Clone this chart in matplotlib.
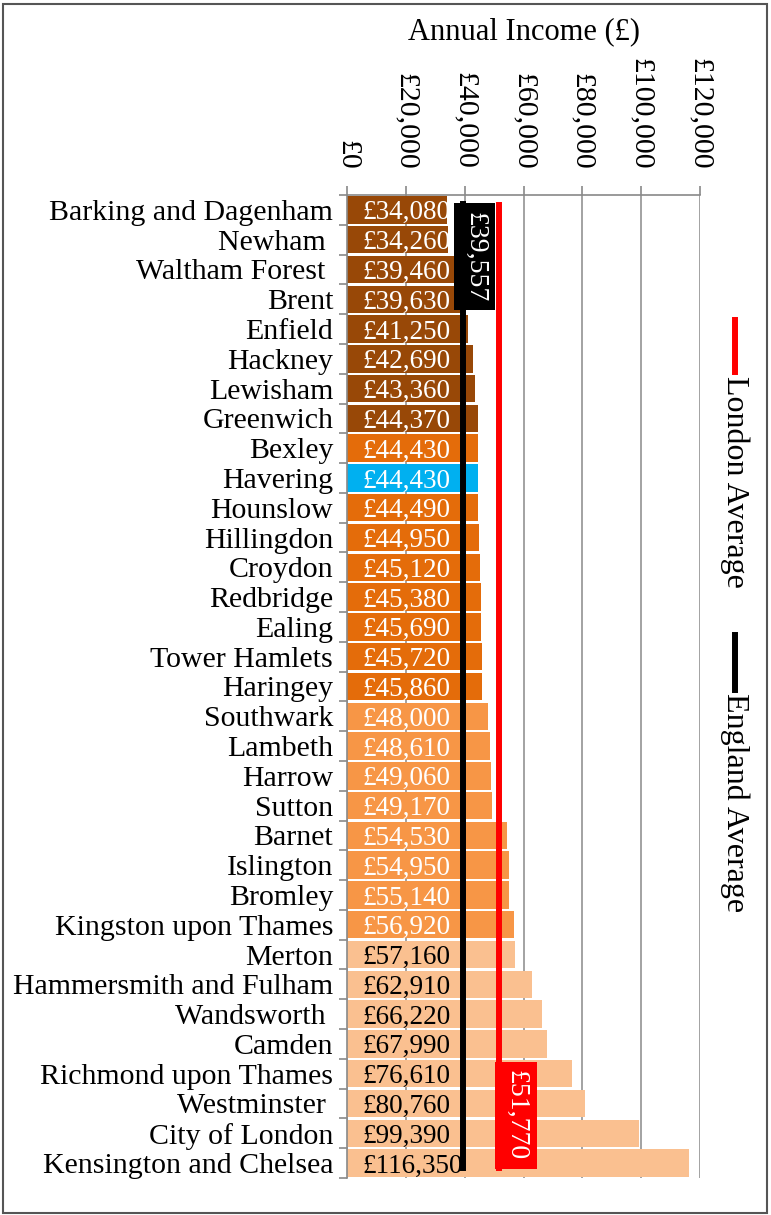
import numpy as np
import matplotlib
matplotlib.use('Agg')
import matplotlib.pyplot as plt
from matplotlib.lines import Line2D
from matplotlib.patches import Rectangle

boroughs = ['Barking and Dagenham', 'Newham ', 'Waltham Forest ', 'Brent', 'Enfield',
            'Hackney', 'Lewisham', 'Greenwich', 'Bexley', 'Havering', 'Hounslow',
            'Hillingdon', 'Croydon', 'Redbridge', 'Ealing', 'Tower Hamlets', 'Haringey',
            'Southwark', 'Lambeth', 'Harrow', 'Sutton', 'Barnet', 'Islington', 'Bromley',
            'Kingston upon Thames', 'Merton', 'Hammersmith and Fulham', 'Wandsworth ',
            'Camden', 'Richmond upon Thames', 'Westminster ', 'City of London',
            'Kensington and Chelsea']
income = [34080, 34260, 39460, 39630, 41250, 42690, 43360, 44370, 44430, 44430,
          44490, 44950, 45120, 45380, 45690, 45720, 45860, 48000, 48610, 49060,
          49170, 54530, 54950, 55140, 56920, 57160, 62910, 66220, 67990, 76610,
          80760, 99390, 116350]
england_avg = 39557
london_avg = 51770
x_ticks = [0, 20000, 40000, 60000, 80000, 100000, 120000]

plt.rcParams['font.family'] = ['Liberation Serif', 'DejaVu Serif']

# colour bands as in the original
brown, orange, light, pale, blue = '#984807', '#E46C0A', '#F79646', '#FAC090', '#00B0F0'
colors = [brown] * 8 + [orange] * 9 + [light] * 8 + [pale] * 8
colors[boroughs.index('Havering')] = blue
text_colors = ['white'] * 25 + ['black'] * 8
grey = '#898989'

fig = plt.figure(figsize=(7.71, 12.15), dpi=100)
ax = fig.add_axes([0.4501, 0.0305, 0.4578, 0.809])

y = np.arange(len(boroughs))
bars = ax.barh(y, income, height=0.92, color=colors, zorder=2)
ax.set_ylim(len(boroughs) - 0.5, -0.5)
ax.set_xlim(0, 120000)

ax.xaxis.tick_top()
ax.set_xticks(x_ticks)
ax.set_xticklabels([f'£{v:,}' for v in x_ticks], rotation=-90, fontsize=21.5)
ax.tick_params(axis='x', length=6.5, width=1.2, color=grey, pad=12)
ax.grid(axis='x', color=grey, lw=1.1, zorder=0)
ax.set_axisbelow(True)

ax.set_yticks(y)
ax.set_yticklabels(boroughs, fontsize=21.5)
ax.set_yticks(np.arange(-0.5, len(boroughs), 1), minor=True)
ax.tick_params(axis='y', which='major', length=0, pad=10)
ax.tick_params(axis='y', which='minor', length=6, width=1.2, color=grey)
for s in ['right', 'bottom']:
    ax.spines[s].set_visible(False)
for s in ['left', 'top']:
    ax.spines[s].set_color(grey)
    ax.spines[s].set_linewidth(1.2)

for i, (b, v) in enumerate(zip(bars, income)):
    t = ax.annotate(f'£{v:,}', xy=(0, i), xytext=(11, 0), textcoords='offset points',
                    ha='left', va='center_baseline', color=text_colors[i],
                    fontsize=19.5, zorder=3)
    t.set_clip_path(b)

# average lines
ax.plot([england_avg] * 2, [-0.2, 32.15], color='black', lw=4.3, zorder=4)
ax.plot([london_avg] * 2, [-0.15, 32.15], color='red', lw=4.3, zorder=4)
ax.annotate(f'£{england_avg:,}', xy=(england_avg, 1.57), xytext=(8, 0),
            textcoords='offset points', rotation=-90, ha='center', va='center',
            color='white', fontsize=20, zorder=5,
            bbox=dict(boxstyle='square,pad=0.3', fc='black', ec='none'))
ax.annotate(f'£{london_avg:,}', xy=(london_avg, 30.4), xytext=(12, 0),
            textcoords='offset points', rotation=-90, ha='center', va='center',
            color='white', fontsize=20, zorder=5,
            bbox=dict(boxstyle='square,pad=0.3', fc='red', ec='none'))

# legend, rotated like the original
lx = 735 / 771
fig.add_artist(Line2D([lx, lx], [1 - 320 / 1215, 1 - 372 / 1215], color='red', lw=4.3,
                      transform=fig.transFigure))
fig.text(lx, 1 - 376 / 1215, 'London Average', rotation=-90, ha='center', va='top', fontsize=23)
fig.add_artist(Line2D([lx, lx], [1 - 635 / 1215, 1 - 690 / 1215], color='black', lw=4.3,
                      transform=fig.transFigure))
fig.text(lx, 1 - 693 / 1215, 'England Average', rotation=-90, ha='center', va='top', fontsize=23)

fig.text(523.5 / 771, 1 - 32 / 1215, 'Annual Income (£)', ha='center', va='center', fontsize=22)

fig.add_artist(Rectangle((0.004, 0.002), 0.991, 0.995, transform=fig.transFigure,
                         fill=False, ec='#555555', lw=1.5))

fig.savefig('out.png', dpi=100)
